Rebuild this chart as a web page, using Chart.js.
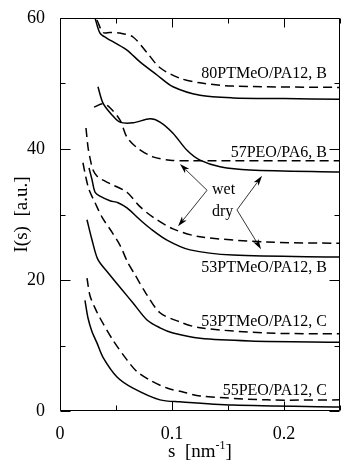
<!DOCTYPE html>
<html>
<head>
<meta charset="utf-8">
<script src="https://cdn.jsdelivr.net/npm/chart.js@4"></script>
<style>
  html, body { margin: 0; padding: 0; background: #fff; }
</style>
</head>
<body>
<canvas id="saxsChart" width="341" height="460"></canvas>
<script>
// Datos: s [nm^-1] e I(s) [u.a.], seco = linea continua, humedo = discontinua
const s80Dry = [0.0313, 0.0357, 0.0420, 0.0491, 0.0598, 0.0714, 0.0866, 0.1009, 0.125, 0.1545, 0.20, 0.25];
const i80Dry = [60.0, 57.7, 56.9, 56.2, 55.1, 53.3, 51.3, 49.5, 48.2, 47.8, 47.7, 47.6];
const s80Wet = [0.0330, 0.0384, 0.0446, 0.0536, 0.0652, 0.0777, 0.0893, 0.1071, 0.125, 0.1545, 0.25];
const i80Wet = [59.7, 57.8, 57.8, 57.7, 57.1, 54.7, 52.4, 50.8, 50.1, 49.6, 49.4];

const s57Dry = [0.0339, 0.0384, 0.0464, 0.0536, 0.0652, 0.0804, 0.0893, 0.1009, 0.1134, 0.125, 0.1429, 0.1696, 0.25];
const i57Dry = [49.5, 47.0, 45.2, 44.1, 44.0, 44.6, 44.1, 42.4, 39.8, 38.3, 37.3, 36.8, 36.5];
const s57Wet = [0.0304, 0.0384, 0.0446, 0.0536, 0.0598, 0.0688, 0.0830, 0.0982, 0.1161, 0.25];
const i57Wet = [46.4, 46.9, 46.3, 44.4, 41.8, 40.2, 38.8, 38.3, 38.2, 38.2];

const s53BDry = [0.0259, 0.0286, 0.0313, 0.0357, 0.0446, 0.0518, 0.0598, 0.0714, 0.0804, 0.0955, 0.1161, 0.1545, 0.25];
const i53BDry = [37.1, 35.3, 33.4, 32.8, 32.1, 31.8, 31.0, 29.2, 27.9, 26.1, 24.6, 23.8, 23.5];
const s53BWet = [0.0232, 0.0250, 0.0268, 0.0295, 0.0339, 0.0402, 0.0473, 0.0598, 0.0714, 0.0830, 0.1009, 0.125, 0.1848, 0.25];
const i53BWet = [43.2, 40.3, 38.6, 36.8, 35.7, 35.1, 34.5, 33.4, 31.2, 29.6, 27.8, 26.6, 25.8, 25.6];

const s53CDry = [0.0241, 0.0286, 0.0339, 0.0429, 0.0554, 0.0652, 0.0777, 0.0893, 0.1009, 0.125, 0.1696, 0.25];
const i53CDry = [29.2, 26.1, 23.1, 21.1, 18.5, 16.5, 13.9, 12.7, 11.9, 11.1, 10.7, 10.5];
const s53CWet = [0.0205, 0.0232, 0.0259, 0.0313, 0.0375, 0.0464, 0.0536, 0.0607, 0.0670, 0.0759, 0.0893, 0.1071, 0.125, 0.1848, 0.25];
const i53CWet = [37.9, 35.6, 33.8, 31.8, 29.6, 27.3, 25.3, 22.6, 20.8, 18.2, 15.0, 13.6, 12.7, 11.9, 11.8];

const s55Dry = [0.0223, 0.0250, 0.0286, 0.0330, 0.0384, 0.0509, 0.0652, 0.0893, 0.1071, 0.1545, 0.25];
const i55Dry = [16.9, 14.2, 12.1, 10.4, 8.2, 5.2, 3.5, 1.7, 1.4, 0.9, 0.6];
const s55Wet = [0.0241, 0.0268, 0.0313, 0.0357, 0.0473, 0.0598, 0.0688, 0.0804, 0.0955, 0.1098, 0.125, 0.1848, 0.25];
const i55Wet = [20.3, 17.6, 15.7, 14.2, 10.8, 7.8, 6.0, 4.7, 3.5, 2.9, 2.3, 1.7, 1.7];

// Marcas de los ejes
const xMajorTicks = [0, 0.1, 0.2];
const xMinorTicks = [0.05, 0.15, 0.25];
const yMajorTicks = [0, 20, 40, 60];
const yMinorTicks = [10, 30, 50];

const serif = "'Liberation Serif', 'Times New Roman', serif";

// Etiquetas de las curvas (en unidades de datos)
const curveLabels = [
    { text: '80PTMeO/PA12, B', s: 0.2384, i: 51.5, align: 'right' },
    { text: '57PEO/PA6, B', s: 0.2384, i: 39.4, align: 'right' },
    { text: 'wet', s: 0.1357, i: 33.7, align: 'left' },
    { text: 'dry', s: 0.1357, i: 30.4, align: 'left' },
    { text: '53PTMeO/PA12, B', s: 0.2384, i: 21.8, align: 'right' },
    { text: '53PTMeO/PA12, C', s: 0.2384, i: 13.6, align: 'right' },
    { text: '55PEO/PA12, C', s: 0.2384, i: 3.05, align: 'right' }
];

// Flechas: desde la etiqueta hasta la curva
const arrows = [
    { from: [0.1313, 33.7], to: [0.1071, 37.7] },
    { from: [0.1313, 33.7], to: [0.1054, 28.2] },
    { from: [0.1580, 30.7], to: [0.1804, 35.9] },
    { from: [0.1580, 30.7], to: [0.1795, 24.7] }
];

function makeLine(sVals, iVals, dashed) {
    return {
        data: sVals.map((v, k) => ({ x: v, y: iVals[k] })),
        showLine: true,
        borderColor: '#000',
        borderWidth: 1.5,
        borderDash: dashed ? [9, 5] : [],
        pointRadius: 0,
        fill: false,
        tension: 0.3
    };
}

// Plugin para el marco, las marcas interiores, textos y flechas
const framePlugin = {
    id: 'framePlugin',
    afterDraw(chart) {
        const { ctx, chartArea: a, scales: { x, y } } = chart;
        ctx.save();
        ctx.strokeStyle = '#000';
        ctx.lineWidth = 1;
        const L = Math.round(a.left) + 0.5, R = Math.round(a.right) - 0.5;
        const T = Math.round(a.top) + 0.5, B = Math.round(a.bottom) - 0.5;
        ctx.beginPath();
        ctx.rect(L, T, R - L, B - T);

        const xTick = (v, len) => {
            const px = Math.round(x.getPixelForValue(v)) + 0.5;
            ctx.moveTo(px, B); ctx.lineTo(px, B - len);
            ctx.moveTo(px, T); ctx.lineTo(px, T + len);
        };
        const yTick = (v, len) => {
            const py = Math.round(y.getPixelForValue(v)) + 0.5;
            ctx.moveTo(L, py); ctx.lineTo(L + len, py);
            ctx.moveTo(R, py); ctx.lineTo(R - len, py);
        };
        xMajorTicks.forEach(v => xTick(v, 9));
        xMinorTicks.forEach(v => xTick(v, 5));
        yMajorTicks.forEach(v => yTick(v, 10));
        yMinorTicks.forEach(v => yTick(v, 5));
        ctx.stroke();

        // Etiquetas de curvas
        ctx.fillStyle = '#000';
        ctx.font = '16px ' + serif;
        ctx.textBaseline = 'middle';
        curveLabels.forEach(lb => {
            ctx.textAlign = lb.align;
            ctx.fillText(lb.text, x.getPixelForValue(lb.s), y.getPixelForValue(lb.i));
        });

        // Flechas
        ctx.lineWidth = 0.8;
        arrows.forEach(ar => {
            const x0 = x.getPixelForValue(ar.from[0]), y0 = y.getPixelForValue(ar.from[1]);
            const x1 = x.getPixelForValue(ar.to[0]), y1 = y.getPixelForValue(ar.to[1]);
            const ang = Math.atan2(y1 - y0, x1 - x0);
            const head = 10, half = 3;
            ctx.beginPath();
            ctx.moveTo(x0, y0);
            ctx.lineTo(x1 - head * 0.8 * Math.cos(ang), y1 - head * 0.8 * Math.sin(ang));
            ctx.stroke();
            ctx.beginPath();
            ctx.moveTo(x1, y1);
            ctx.lineTo(x1 - head * Math.cos(ang) + half * Math.sin(ang), y1 - head * Math.sin(ang) - half * Math.cos(ang));
            ctx.lineTo(x1 - head * 0.75 * Math.cos(ang), y1 - head * 0.75 * Math.sin(ang));
            ctx.lineTo(x1 - head * Math.cos(ang) - half * Math.sin(ang), y1 - head * Math.sin(ang) + half * Math.cos(ang));
            ctx.closePath();
            ctx.fill();
        });

        // Titulo eje Y
        ctx.font = '19px ' + serif;
        ctx.textAlign = 'center';
        ctx.save();
        ctx.translate(22, (a.top + a.bottom) / 2);
        ctx.rotate(-Math.PI / 2);
        ctx.fillText('I(s)  [a.u.]', 0, 0);
        ctx.restore();

        // Titulo eje X con superindice
        ctx.textBaseline = 'alphabetic';
        ctx.textAlign = 'left';
        const base = 's  [nm', sup = '-1', close = ']';
        ctx.font = '19px ' + serif;
        const w1 = ctx.measureText(base).width, w3 = ctx.measureText(close).width;
        ctx.font = '12px ' + serif;
        const w2 = ctx.measureText(sup).width;
        let tx = (a.left + a.right) / 2 - (w1 + w2 + w3) / 2;
        const ty = 457;
        ctx.font = '19px ' + serif;
        ctx.fillText(base, tx, ty);
        ctx.font = '12px ' + serif;
        ctx.fillText(sup, tx + w1, ty - 8);
        ctx.font = '19px ' + serif;
        ctx.fillText(close, tx + w1 + w2, ty);
        ctx.restore();
    }
};

const ctx = document.getElementById('saxsChart').getContext('2d');
const saxsChart = new Chart(ctx, {
    type: 'scatter',
    data: {
        datasets: [
            makeLine(s80Dry, i80Dry, false),
            makeLine(s80Wet, i80Wet, true),
            makeLine(s57Dry, i57Dry, false),
            makeLine(s57Wet, i57Wet, true),
            makeLine(s53BDry, i53BDry, false),
            makeLine(s53BWet, i53BWet, true),
            makeLine(s53CDry, i53CDry, false),
            makeLine(s53CWet, i53CWet, true),
            makeLine(s55Dry, i55Dry, false),
            makeLine(s55Wet, i55Wet, true)
        ]
    },
    options: {
        responsive: false,
        animation: false,
        devicePixelRatio: 1,
        layout: { padding: { top: 18, right: 1, left: 0, bottom: 0 } },
        plugins: {
            legend: { display: false },
            tooltip: { enabled: false }
        },
        scales: {
            x: {
                type: 'linear',
                min: 0,
                max: 0.25,
                grid: { display: false },
                border: { display: false },
                ticks: {
                    stepSize: 0.1,
                    includeBounds: false,
                    maxRotation: 0,
                    padding: 4,
                    color: '#000',
                    font: { family: serif, size: 18 }
                },
                afterFit: scale => { scale.height = 49; }
            },
            y: {
                type: 'linear',
                min: 0,
                max: 60,
                grid: { display: false },
                border: { display: false },
                ticks: {
                    stepSize: 20,
                    padding: 7,
                    color: '#000',
                    font: { family: serif, size: 18 }
                },
                afterFit: scale => { scale.width = 60; }
            }
        }
    },
    plugins: [framePlugin]
});
</script>
</body>
</html>
